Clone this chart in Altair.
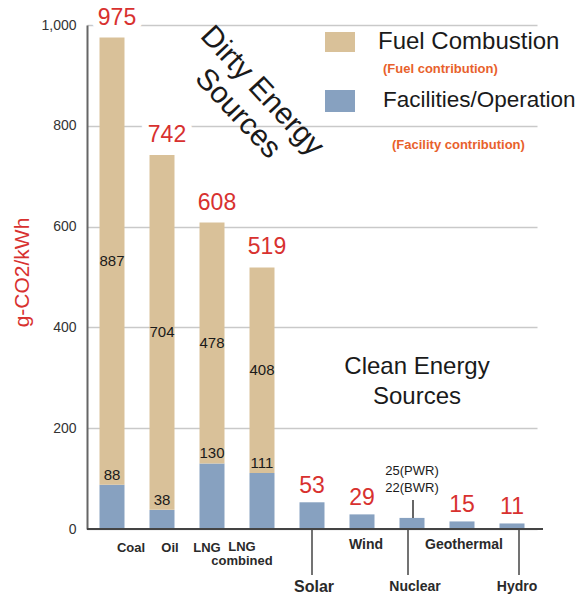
import altair as alt
import pandas as pd

# Life-cycle CO2 emissions per kWh by power source
sources = ["Coal", "Oil", "LNG", "LNG combined", "Solar", "Wind", "Nuclear", "Geothermal", "Hydro"]
fuel = [887, 704, 478, 408, 0, 0, 0, 0, 0]
facility = [88, 38, 130, 111, 53, 29, 22, 15, 11]
totals = [975, 742, 608, 519, 53, 29, None, 15, 11]
nuclear_note = ["25(PWR)", "22(BWR)"]
dirty = ["Coal", "Oil", "LNG", "LNG combined"]

TAN = "#d9c199"
BLUE = "#87a1c0"
RED = "#d8312f"
ORANGE = "#e8612c"
FONT = "Liberation Sans"

df = pd.DataFrame({"source": sources, "fuel": fuel, "facility": facility, "total": totals})
df["top"] = df["fuel"] + df["facility"]
df["fuel_mid"] = df["facility"] + df["fuel"] / 2
df["is_dirty"] = df["source"].isin(dirty)

y_axis = alt.Axis(
    title="g-CO2/kWh", titleColor=RED, titleFontSize=21, titleFont=FONT,
    titleFontWeight="normal", titleAngle=-90, titleX=-65, titleY=247,
    titleAlign="center", titleBaseline="middle",
    values=[0, 200, 400, 600, 800, 1000], format=",d",
    labelFontSize=14, labelColor="#333333", labelFont=FONT, labelPadding=11,
    ticks=False, grid=True, gridColor="#c9c9c9", gridWidth=1.5,
    domainColor="#666666", domainWidth=2,
)
y_scale = alt.Scale(domain=[0, 1000], nice=False, zero=True)
X = alt.X("source:N", sort=sources, axis=None,
          scale=alt.Scale(paddingInner=0.5, paddingOuter=0.25))


def Y(field):
    return alt.Y(f"{field}:Q", scale=y_scale, axis=y_axis)


base = alt.Chart(df)

facility_bars = base.mark_bar(color=BLUE).encode(x=X, y=Y("facility"))
fuel_bars = base.transform_filter("datum.fuel > 0").mark_bar(color=TAN).encode(
    x=X, y=Y("top"), y2="facility:Q")

# totals above the bars (white halo breaks the gridlines behind them)
dirty_base = base.transform_filter("datum.is_dirty")
total_halo = dirty_base.mark_text(
    font=FONT, fontSize=23, dx=5, dy=-13, baseline="alphabetic",
    color="white", stroke="white", strokeWidth=14, strokeJoin="round",
).encode(x=X, y=Y("top"), text="total:Q")
total_dirty = dirty_base.mark_text(
    font=FONT, fontSize=23, dx=5, dy=-13, baseline="alphabetic", color=RED,
).encode(x=X, y=Y("top"), text="total:Q")
total_clean = base.transform_filter("!datum.is_dirty && isValid(datum.total)").mark_text(
    font=FONT, fontSize=23, dy=-9, baseline="alphabetic", color=RED,
).encode(x=X, y=Y("top"), text="total:Q")

fuel_labels = dirty_base.mark_text(
    font=FONT, fontSize=15, color="#1a1a1a", baseline="middle",
).encode(x=X, y=Y("fuel_mid"), text="fuel:Q")
facility_labels = dirty_base.mark_text(
    font=FONT, fontSize=15, color="#1a1a1a", baseline="middle", dy=-10,
).encode(x=X, y=Y("facility"), text="facility:Q")

nuclear_base = base.transform_filter("datum.source == 'Nuclear'")
nuclear_text = nuclear_base.transform_calculate(
    note="'" + "\\n".join(nuclear_note) + "'"
).mark_text(
    font=FONT, fontSize=13, color="#1a1a1a", lineBreak="\n", lineHeight=17,
    baseline="middle", dy=-47,
).encode(x=X, y=Y("facility"), text="note:N")
nuclear_leader = nuclear_base.mark_rule(
    color="#333333", strokeWidth=1.5, xOffset=1, y2Offset=-18,
).encode(x=X, y=Y("facility"), y2="facility:Q")

baseline = alt.Chart(pd.DataFrame({"k": [0]})).mark_rule(
    color="#444444", strokeWidth=2,
).encode(x=alt.value(0), x2=alt.value(456), y=alt.datum(0, scale=y_scale))

layers = [facility_bars, fuel_bars, baseline, total_halo, total_dirty, total_clean,
          fuel_labels, facility_labels, nuclear_leader, nuclear_text]

# category labels under the axis: (source, text, dx, y, size)
tick_layout = [
    ("Coal", "Coal", 19, 523, 13),
    ("Oil", "Oil", 8, 523, 13),
    ("LNG", "LNG", -5, 523, 13),
    ("LNG combined", "LNG\ncombined", -20, 522, 13),
    ("Solar", "Solar", 2, 562, 16),
    ("Wind", "Wind", 4, 520, 14),
    ("Nuclear", "Nuclear", 3, 562, 14),
    ("Geothermal", "Geothermal", 2, 520, 14),
    ("Hydro", "Hydro", 5, 562, 14),
]
for src, label, dx, ypix, size in tick_layout:
    layers.append(
        alt.Chart(pd.DataFrame({"source": [src], "label": [label]})).mark_text(
            font=FONT, fontSize=size, fontWeight="bold", color="#2a2a2a",
            dx=dx, baseline="middle", lineBreak="\n", lineHeight=14,
        ).encode(x=X, y=alt.value(ypix), text="label:N")
    )

# leader lines from the axis down to the lower labels
for src, off in [("Solar", 0), ("Nuclear", -4), ("Hydro", 7)]:
    layers.append(
        alt.Chart(pd.DataFrame({"source": [src]})).mark_rule(
            color="#444444", strokeWidth=1.5, xOffset=off,
        ).encode(x=X, y=alt.value(505), y2=alt.value(550))
    )


def note(text, x, y, **kw):
    return alt.Chart(pd.DataFrame({"t": [text]})).mark_text(
        font=FONT, lineBreak="\n", **kw
    ).encode(x=alt.value(x), y=alt.value(y), text="t:N")


def swatch(color, x, x2, y, y2):
    return alt.Chart(pd.DataFrame({"k": [0]})).mark_rect(color=color).encode(
        x=alt.value(x), x2=alt.value(x2), y=alt.value(y), y2=alt.value(y2))


layers += [
    swatch(TAN, 238, 268, 7, 27),
    swatch(BLUE, 238, 268, 65, 87),
    note("Fuel Combustion", 291, 17, fontSize=24, align="left", baseline="middle", color="#1a1a1a"),
    note("(Fuel contribution)", 296, 44, fontSize=13, fontWeight="bold", align="left",
         baseline="middle", color=ORANGE),
    note("Facilities/Operation", 296, 75, fontSize=22.5, align="left", baseline="middle", color="#1a1a1a"),
    note("(Facility contribution)", 305, 120, fontSize=13, fontWeight="bold", align="left",
         baseline="middle", color=ORANGE),
    note("Dirty Energy\nSources", 175, 66, fontSize=30, angle=47, align="center",
         baseline="middle", lineHeight=33, color="#1a1a1a"),
    note("Clean Energy\nSources", 330, 342, fontSize=24, align="center",
         baseline="middle", lineHeight=30, color="#1a1a1a"),
]

chart = alt.layer(*layers).properties(
    width=450, height=504,
    autosize=alt.AutoSizeParams(type="none"),
    padding={"left": 87, "top": 25, "right": 49, "bottom": 67},
    background="white",
).configure_view(stroke=None)

chart.save("out.html", embed_options={"renderer": "svg", "actions": False})
